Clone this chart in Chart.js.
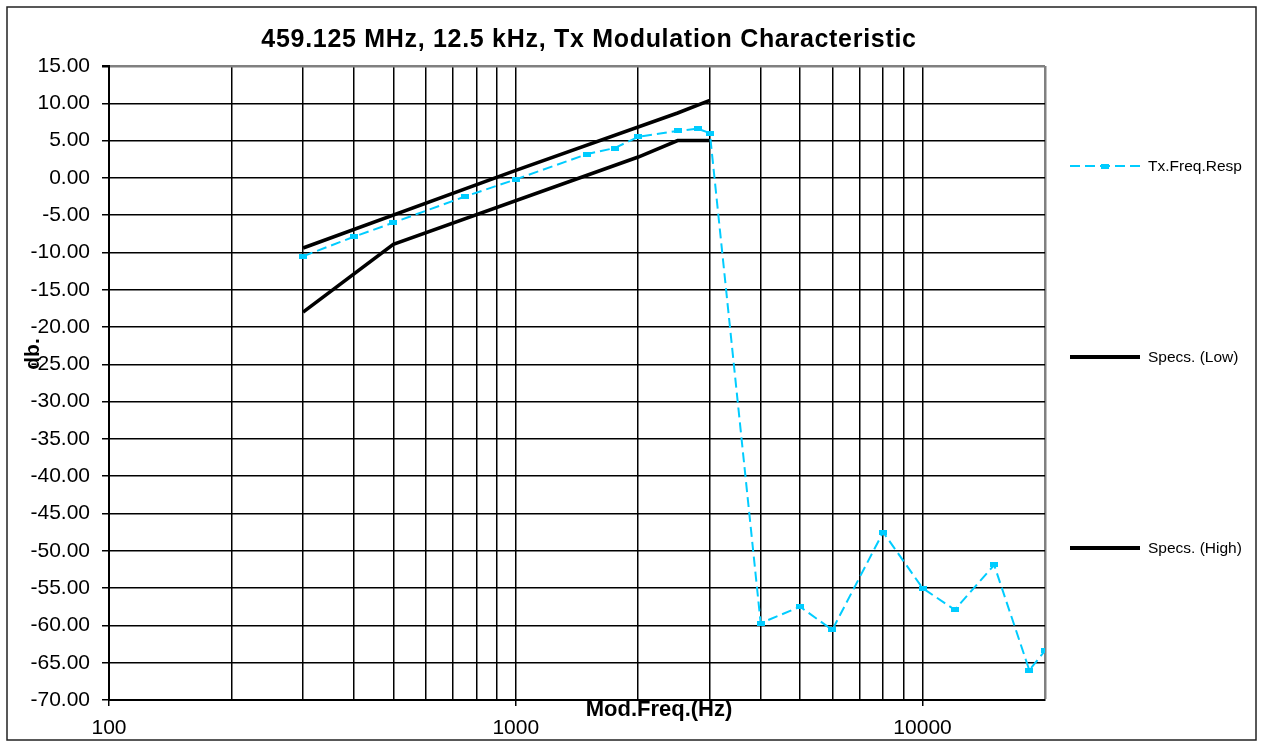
<!DOCTYPE html>
<html>
<head>
<meta charset="utf-8">
<script src="https://cdn.jsdelivr.net/npm/chart.js@4.4.1/dist/chart.umd.min.js"></script>
<style>
  html, body { margin: 0; padding: 0; background: #fff; }
  #wrap { width: 1261px; height: 742px; }
</style>
</head>
<body>
<div id="wrap"><canvas id="c" width="1261" height="742"></canvas></div>
<script>
// ---- data ----
const chartTitle = '459.125 MHz, 12.5 kHz, Tx Modulation Characteristic';
const xAxisTitle = 'Mod.Freq.(Hz)';
const yAxisTitle = 'db.';
const seriesNames = ['Tx.Freq.Resp', 'Specs. (Low)', 'Specs. (High)'];

const txFreq = [300, 400, 500, 750, 1000, 1500, 1750, 2000, 2500, 2800, 3000,
                4000, 5000, 6000, 8000, 10000, 12000, 15000, 18300, 20000];
const txResp = [-10.5, -7.9, -6.0, -2.5, -0.2, 3.2, 4.0, 5.5, 6.3, 6.6, 6.0,
                -59.7, -57.5, -60.6, -47.5, -55.0, -57.9, -51.9, -66.0, -63.4];

const specLowFreq = [300, 500, 2000, 2500, 3000];
const specLow     = [-18.0, -8.9, 2.8, 5.0, 5.0];

const specHighFreq = [300, 1000, 2500, 3000];
const specHigh     = [-9.4, 1.0, 8.7, 10.4];

const xMin = 100, xMax = 20000;
const yMin = -70, yMax = 15, yStep = 5;
const xLabelTicks = [100, 1000, 10000];

// ---- helpers ----
const FONT = "'Liberation Sans', Arial, Helvetica, sans-serif";
const CYAN = '#00CCFF';
function pts(xs, ys) { return xs.map((x, i) => ({ x: x, y: ys[i] })); }
function isDecadeStep(v) {
  const p = Math.pow(10, Math.floor(Math.log10(v) + 1e-9));
  const s = v / p;
  return Math.abs(s - Math.round(s)) < 1e-6;
}

// rectangular marker (wider than tall)
const marker = document.createElement('canvas');
marker.width = 8; marker.height = 5;
(function () { const m = marker.getContext('2d'); m.fillStyle = CYAN; m.fillRect(0, 0, 8, 5); })();

const decorPlugin = {
  id: 'decor',
  afterDraw(chart) {
    const ctx = chart.ctx;
    ctx.save();
    // outer frame
    ctx.strokeStyle = '#222';
    ctx.lineWidth = 1.5;
    ctx.strokeRect(7, 7, 1249, 733);

    // title
    ctx.fillStyle = '#000';
    ctx.font = 'bold 25px ' + FONT;
    ctx.textAlign = 'center';
    ctx.textBaseline = 'middle';
    if ('letterSpacing' in ctx) ctx.letterSpacing = '0.7px';
    ctx.fillText(chartTitle, 589, 40);
    if ('letterSpacing' in ctx) ctx.letterSpacing = '0px';

    // x axis title
    ctx.font = 'bold 22px ' + FONT;
    ctx.fillText(xAxisTitle, 659, 710);

    // y axis title (rotated)
    ctx.font = 'bold 21px ' + FONT;
    ctx.save();
    ctx.translate(33, 354);
    ctx.rotate(-Math.PI / 2);
    ctx.fillText(yAxisTitle, 0, 0);
    ctx.restore();

    // legend
    const items = [
      { y: 166, color: CYAN, width: 2, dash: [10, 5], marker: true },
      { y: 357, color: '#000', width: 4, dash: [], marker: false },
      { y: 548, color: '#000', width: 4, dash: [], marker: false }
    ];
    ctx.font = '15.5px ' + FONT;
    ctx.textAlign = 'left';
    items.forEach((it, i) => {
      ctx.beginPath();
      ctx.setLineDash(it.dash);
      ctx.strokeStyle = it.color;
      ctx.lineWidth = it.width;
      ctx.moveTo(1070, it.y);
      ctx.lineTo(1140, it.y);
      ctx.stroke();
      ctx.setLineDash([]);
      if (it.marker) ctx.drawImage(marker, 1101, it.y - 2.5);
      ctx.fillStyle = '#000';
      ctx.fillText(seriesNames[i], 1148, it.y + 1);
    });
    ctx.restore();
  }
};

new Chart(document.getElementById('c'), {
  type: 'scatter',
  data: {
    datasets: [
      {
        label: seriesNames[0],
        data: pts(txFreq, txResp),
        showLine: true,
        borderColor: CYAN,
        backgroundColor: CYAN,
        borderWidth: 2,
        borderDash: [10, 5],
        pointStyle: marker,
        pointRadius: 4,
        order: 0
      },
      {
        label: seriesNames[1],
        data: pts(specLowFreq, specLow),
        showLine: true,
        borderColor: '#000',
        borderWidth: 3.5,
        pointRadius: 0,
        order: 1
      },
      {
        label: seriesNames[2],
        data: pts(specHighFreq, specHigh),
        showLine: true,
        borderColor: '#000',
        borderWidth: 3.5,
        pointRadius: 0,
        order: 1
      }
    ]
  },
  options: {
    responsive: false,
    animation: false,
    devicePixelRatio: 1,
    layout: { padding: { left: 9, right: 216, top: 66, bottom: 6 } },
    plugins: {
      legend: { display: false },
      tooltip: { enabled: false },
      title: { display: false }
    },
    scales: {
      x: {
        type: 'logarithmic',
        min: xMin,
        max: xMax,
        afterFit(s) { s.height = 36; },
        border: { display: true, color: '#000', width: 2 },
        grid: {
          color: (c) => {
            if (!c.tick) return '#000';
            if (c.tick.value >= xMax) return '#808080';
            return isDecadeStep(c.tick.value) ? '#000' : 'rgba(0,0,0,0)';
          },
          lineWidth: (c) => (c.tick && c.tick.value >= xMax) ? 2.5 : 1.5,
          tickLength: 6,
          tickColor: (c) => (c.tick && xLabelTicks.includes(c.tick.value)) ? '#000' : 'rgba(0,0,0,0)'
        },
        ticks: {
          autoSkip: false,
          maxRotation: 0,
          minRotation: 0,
          padding: 10,
          color: '#000',
          font: { family: FONT, size: 21 },
          callback: (v) => xLabelTicks.includes(v) ? String(v) : ''
        }
      },
      y: {
        type: 'linear',
        min: yMin,
        max: yMax,
        afterFit(s) { s.width = 100; },
        border: { display: true, color: '#000', width: 2 },
        grid: {
          color: (c) => (c.tick && c.tick.value === yMax) ? '#808080' : '#000',
          lineWidth: (c) => (c.tick && c.tick.value === yMax) ? 2.5 : 1.5,
          tickLength: 7,
          tickColor: '#000'
        },
        ticks: {
          stepSize: yStep,
          padding: 12,
          color: '#000',
          font: { family: FONT, size: 21 },
          callback: (v) => Number(v).toFixed(2)
        }
      }
    }
  },
  plugins: [decorPlugin]
});
</script>
</body>
</html>
